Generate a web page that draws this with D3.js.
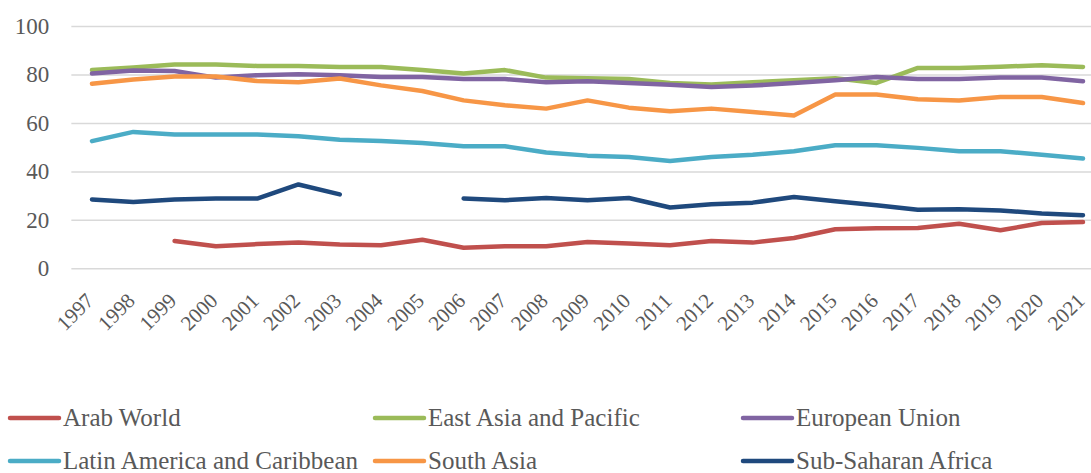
<!DOCTYPE html>
<html>
<head>
<meta charset="utf-8">
<script src="https://cdn.jsdelivr.net/npm/d3@7"></script>
<style>
  html, body { margin: 0; padding: 0; background: #fff; }
  svg { display: block; }
</style>
</head>
<body>
<svg id="chart" width="1091" height="473"></svg>
<script>
// Years on the category axis
const years = d3.range(1997, 2022).map(String);

// Series values (null = no data for that year)
const arabWorld = [null, null, 11.3, 9.1, 10.0, 10.6, 9.8, 9.5, 11.8, 8.5, 9.1, 9.1, 10.9, 10.2, 9.5, 11.3, 10.6, 12.5, 16.1, 16.5, 16.6, 18.4, 15.7, 18.7, 19.1];
const eastAsiaPacific = [81.8, 82.9, 84.1, 84.1, 83.5, 83.5, 83.1, 83.1, 81.8, 80.4, 81.8, 78.7, 78.4, 78.1, 76.5, 75.9, 76.8, 77.6, 78.4, 76.5, 82.7, 82.7, 83.2, 83.8, 83.1];
const europeanUnion = [80.4, 81.6, 81.4, 78.7, 79.7, 80.1, 79.7, 79.0, 79.0, 78.1, 78.1, 76.8, 77.2, 76.5, 75.8, 74.8, 75.4, 76.5, 77.6, 79.0, 78.1, 78.1, 78.7, 78.7, 77.2];
const latinAmerica = [52.5, 56.3, 55.2, 55.2, 55.2, 54.5, 53.1, 52.5, 51.7, 50.4, 50.4, 47.8, 46.5, 45.9, 44.3, 45.9, 46.9, 48.3, 50.8, 50.8, 49.7, 48.3, 48.3, 46.9, 45.3];
const southAsia = [76.2, 77.9, 79.2, 79.2, 77.3, 76.8, 78.3, 75.5, 73.2, 69.3, 67.3, 65.9, 69.3, 66.3, 64.8, 65.9, 64.5, 63.1, 71.7, 71.7, 69.8, 69.3, 70.7, 70.7, 68.2];
const subSaharanAfrica = [28.4, 27.4, 28.4, 28.8, 28.8, 34.6, 30.5, null, null, 28.8, 28.1, 29.0, 28.1, 29.0, 25.1, 26.4, 27.1, 29.4, 27.7, 26.0, 24.2, 24.4, 23.9, 22.6, 21.9];

// Series names and colours, in drawing order
const seriesNames = ["Arab World", "East Asia and Pacific", "European Union", "Latin America and Caribbean", "South Asia", "Sub-Saharan Africa"];
const seriesColors = ["#c0504d", "#9bbb59", "#8064a2", "#4bacc6", "#f79646", "#1f497d"];
const seriesValues = [arabWorld, eastAsiaPacific, europeanUnion, latinAmerica, southAsia, subSaharanAfrica];

// Value-axis ticks
const yTicks = [0, 20, 40, 60, 80, 100];

const FONT = '"Liberation Serif"';
const TEXT_COLOR = "#595959";

const svg = d3.select("#chart");

const x = d3.scalePoint().domain(years).range([92, 1083]);
const step = x.step();
const left = x(years[0]) - step / 2;
const right = x(years[years.length - 1]) + step / 2;

const y = d3.scaleLinear().domain([0, 100]).range([268.3, 26]);

// Gridlines and value labels
const yAxis = svg.append("g")
  .attr("transform", `translate(${left},0)`)
  .call(d3.axisLeft(y).tickValues(yTicks).tickSize(-(right - left)).tickPadding(22).tickFormat(d3.format("d")));
yAxis.attr("font-family", null).attr("font-size", null);
yAxis.select(".domain").remove();
yAxis.selectAll(".tick line").attr("stroke", "#d9d9d9").attr("stroke-width", 1.5);
yAxis.selectAll(".tick text")
  .style("font-family", FONT)
  .style("font-size", "23px")
  .style("fill", TEXT_COLOR);

// Category labels, rotated
const xAxis = svg.append("g")
  .call(d3.axisBottom(x).tickSize(0).tickFormat(d => d));
xAxis.attr("font-family", null).attr("font-size", null);
xAxis.select(".domain").remove();
xAxis.selectAll(".tick text")
  .style("font-family", FONT)
  .style("font-size", "21px")
  .style("fill", TEXT_COLOR)
  .attr("text-anchor", "end")
  .attr("x", null).attr("y", null).attr("dy", null)
  .attr("transform", "translate(2.5,302) rotate(-45)");

// Lines
const line = d3.line()
  .defined(d => d.v != null)
  .x(d => x(d.year))
  .y(d => y(d.v));

const plot = svg.append("g");
seriesValues.forEach((vals, i) => {
  const pts = years.map((yr, j) => ({ year: yr, v: vals[j] }));
  plot.append("path")
    .datum(pts)
    .attr("fill", "none")
    .attr("stroke", seriesColors[i])
    .attr("stroke-width", 4.5)
    .attr("stroke-linejoin", "round")
    .attr("stroke-linecap", "round")
    .attr("d", line);
});

// Legend: three columns, two rows
const legendCols = [8, 373, 741];
const legendRows = [418, 461];
const legend = svg.append("g");
seriesNames.forEach((name, i) => {
  const cx = legendCols[i % 3];
  const cy = legendRows[Math.floor(i / 3)];
  const g = legend.append("g").attr("transform", `translate(${cx},${cy})`);
  g.append("line")
    .attr("x1", 2).attr("x2", 51).attr("y1", 0).attr("y2", 0)
    .attr("stroke", seriesColors[i]).attr("stroke-width", 4.5).attr("stroke-linecap", "round");
  g.append("text")
    .attr("x", 55).attr("y", 8)
    .style("font-family", FONT)
    .style("font-size", "25px")
    .style("fill", TEXT_COLOR)
    .text(name);
});
</script>
</body>
</html>
